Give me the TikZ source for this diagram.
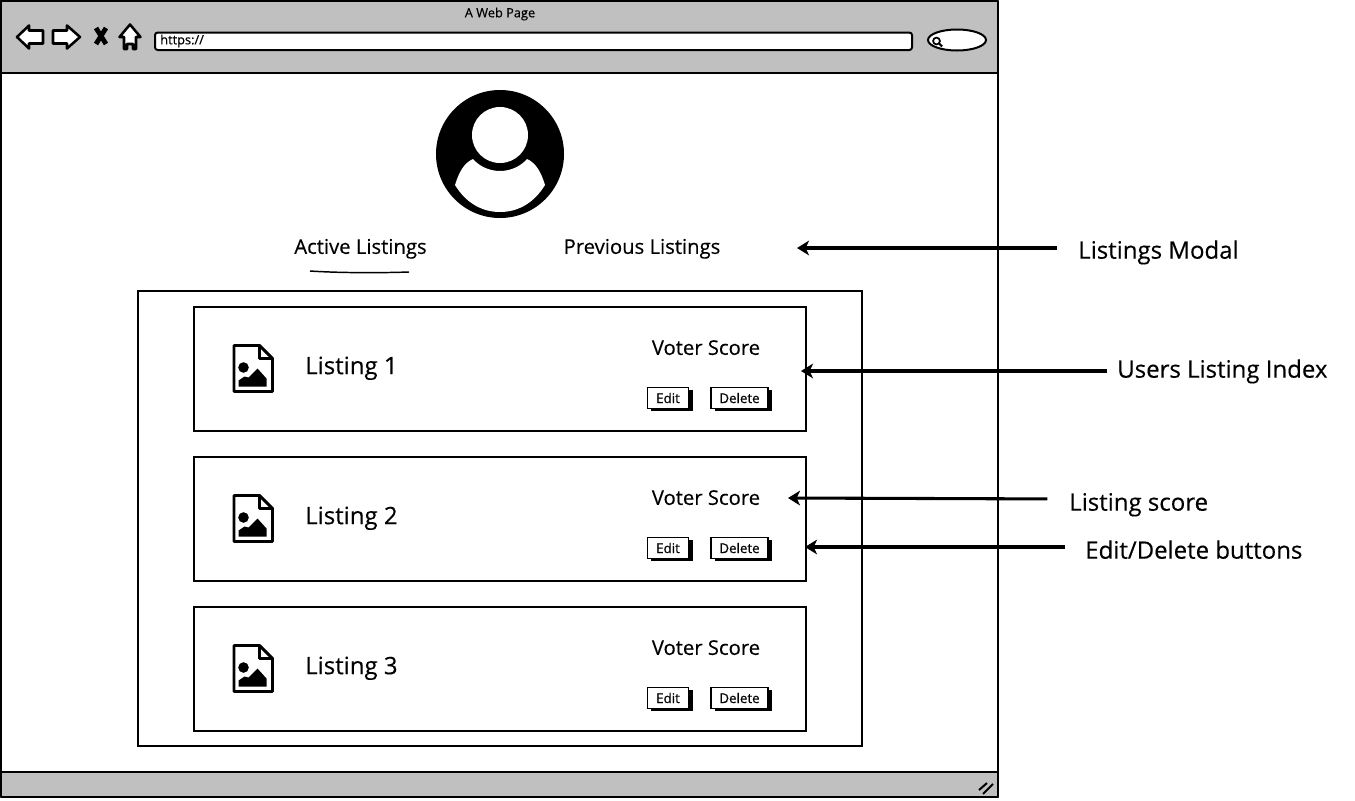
\documentclass[tikz,border=0pt]{standalone}
\usepackage{fontspec}
\setmainfont{Open Sans}[FakeBold=0.35]
\usetikzlibrary{arrows.meta,shadows}

\definecolor{barGray}{HTML}{C0C0C0}

\tikzset{
  frameLine/.style={line width=1.5pt,line join=round},
  thinBox/.style={draw,line width=1.5pt,fill=white},
  calloutArrow/.style={line width=2.3pt,-{Stealth[length=9pt,width=11pt,inset=2.5pt]}},
  navIcon/.style={draw,fill=white,line width=1.9pt,line join=round},
  bigText/.style={anchor=west,inner sep=0.75pt,text height=12pt,text depth=3.5pt,font=\fontsize{18}{20}\selectfont},
  midText/.style={inner sep=0.75pt,text height=11pt,text depth=3pt,font=\fontsize{15.2}{17}\selectfont},
  noteText/.style={anchor=west,inner sep=0.75pt,text height=12pt,text depth=3.5pt,font=\fontsize{18}{20}\selectfont},
  tinyText/.style={inner sep=0.75pt,font=\fontsize{9.6}{11}\selectfont},
  pressBtn/.style={draw,fill=white,line width=1.2pt,inner sep=0pt,minimum height=16pt,font=\fontsize{10}{11}\selectfont,
    drop shadow={shadow xshift=3pt,shadow yshift=-2pt,opacity=1,fill=black}},
  docIcon/.pic={
    \draw[line width=2.2pt,line join=round,fill=white] (1.5,0) -- (27,0) -- (40,13) -- (40,46) -- (1.5,46) -- cycle;
    \draw[line width=2.2pt,line join=round] (27,0) -- (27,13) -- (40,13);
    \fill (11,22) circle [radius=5.3];
    \fill (6,41) -- (6,35) -- (12,31) -- (16,32) -- (25,23) -- (34,33) -- (34,41) -- cycle;
  }
}

\begin{document}
\begin{tikzpicture}[x=0.75pt,y=0.75pt,yscale=-1,xscale=1]
\useasboundingbox (0,0) rectangle (1355,800);

%Browser window
\draw [frameLine,fill=white] (1,1) rectangle (998,797);
\draw [frameLine,fill=barGray] (1,1) rectangle (998,73);
\draw [frameLine,fill=barGray] (1,772) rectangle (998,797);

% Toolbar icons
\draw [navIcon] (17,37) -- (29,25.5) -- (29,30.5) -- (43,30.5) -- (43,43.5) -- (29,43.5) -- (29,48.5) -- cycle;
\draw [navIcon] (80,37) -- (67,25.5) -- (67,30.5) -- (53,30.5) -- (53,43.5) -- (67,43.5) -- (67,48.5) -- cycle;
\draw [line width=3.6pt] (96,28) -- (106,44);
\draw [line width=3.6pt] (106,28) -- (96,44);
\draw [navIcon] (130,24.5) -- (140.5,37) -- (136,37) -- (136,49) -- (133,49) -- (133,44) -- (127,44) -- (127,49) -- (124,49) -- (124,37) -- (119.5,37) -- cycle;

% Address and search boxes
\draw [frameLine,fill=white,rounded corners=2pt] (155,32.5) rectangle (912,50);
\draw [frameLine,fill=white] (957,40) ellipse [x radius=29,y radius=10.5];
\draw [line width=1.3pt] (936.5,41) circle [radius=3.4];
\draw [line width=1.6pt] (939,43.5) -- (942,46.5);

% Resize grip
\draw [line width=1.5pt] (979,790) -- (987,783);
\draw [line width=1.5pt] (983,794) -- (993,784);

% Text Node
\node [tinyText] (pageTitle) at (500,14) {A Web Page};
% Text Node
\node [tinyText,anchor=west] (urlText) at (159,41) {https://};

% Avatar
\fill (500,154) circle [radius=64];
\fill [white] (500,135) circle [radius=28];
\fill [white] (455,185) .. controls (459,172) and (464,163) .. (473,159) .. controls (479,166) and (489,171) .. (500,171) .. controls (511,171) and (521,166) .. (527,159) .. controls (536,163) and (541,172) .. (545,185) .. controls (534,203) and (518,212) .. (500,212) .. controls (482,212) and (466,203) .. (455,185) -- cycle;

% Text Node
\node [midText] (activeTab) at (360.5,248.5) {Active Listings};
% Text Node
\node [midText] (previousTab) at (642,248.5) {Previous Listings};
\draw [line width=1.1pt] (310,271) .. controls (340,273) and (380,273) .. (409,272);

% Listing panel
\draw [thinBox] (138,291) rectangle (862,746);

% Listing 1
\draw [thinBox] (194,307) rectangle (806,431);
\pic [transform shape] at (232.5,345.5) {docIcon};
\node [bigText] (listingOne) at (304,368.5) {Listing 1};
\node [midText] (scoreOne) at (706,349.5) {Voter Score};
\node [pressBtn,minimum width=31pt] (editOne) at (668,398) {Edit};
\node [pressBtn,minimum width=43pt] (deleteOne) at (739.5,398) {Delete};

% Listing 2
\draw [thinBox] (194,457) rectangle (806,581);
\pic [transform shape] at (232.5,495.5) {docIcon};
\node [bigText] (listingTwo) at (304,518.5) {Listing 2};
\node [midText] (scoreTwo) at (706,499.5) {Voter Score};
\node [pressBtn,minimum width=31pt] (editTwo) at (668,548) {Edit};
\node [pressBtn,minimum width=43pt] (deleteTwo) at (739.5,548) {Delete};

% Listing 3
\draw [thinBox] (194,607) rectangle (806,731);
\pic [transform shape] at (232.5,645.5) {docIcon};
\node [bigText] (listingThree) at (304,668.5) {Listing 3};
\node [midText] (scoreThree) at (706,649.5) {Voter Score};
\node [pressBtn,minimum width=31pt] (editThree) at (668,698) {Edit};
\node [pressBtn,minimum width=43pt] (deleteThree) at (739.5,698) {Delete};

% Text Node
\node [noteText] (noteModal) at (1077,253) {Listings Modal};
% Text Node
\node [noteText] (noteIndex) at (1116,372) {Users Listing Index};
% Text Node
\node [noteText] (noteScore) at (1068,505) {Listing score};
% Text Node
\node [noteText] (noteButtons) at (1084,553) {Edit/Delete buttons};

\coordinate (tipModal) at (797,248);
\coordinate (tipIndex) at (801,371);
\coordinate (tipScore) at (788,498);
\coordinate (tipButtons) at (805,547);

%Straight Lines
\draw [calloutArrow,shorten <=15pt] (noteModal.west) ++(0,-5) -- (tipModal);
\draw [calloutArrow,shorten <=6.5pt] (noteIndex.west) ++(0,-1) -- (tipIndex);
\draw [calloutArrow,shorten <=15.5pt] (noteScore.west) ++(0,-6) -- (tipScore);
\draw [calloutArrow,shorten <=14pt] (noteButtons.west) ++(0,-6) -- (tipButtons);

\end{tikzpicture}
\end{document}
